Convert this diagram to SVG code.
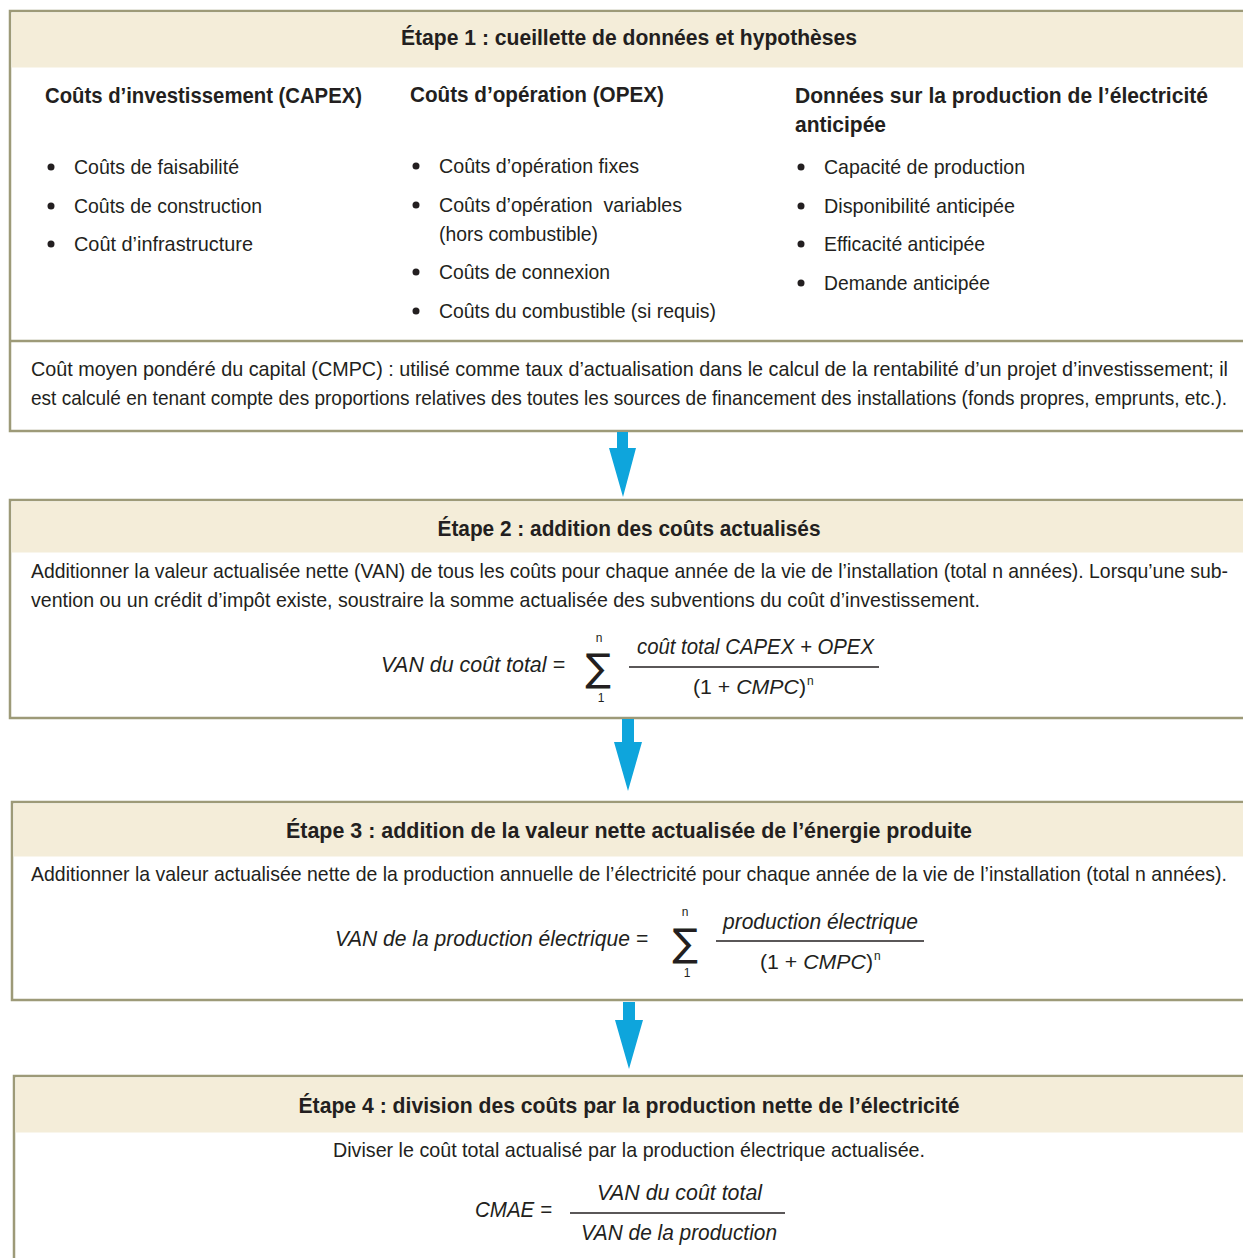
<svg xmlns="http://www.w3.org/2000/svg" width="1243" height="1258" viewBox="0 0 1243 1258">
<style>
text{font-family:"Liberation Sans","Noto Sans",sans-serif;fill:#231f20;}
.t{font-size:22px;font-weight:bold;text-anchor:middle;}
.h{font-size:22px;font-weight:bold;}
.b{font-size:21px;}
.i{font-size:22px;font-style:italic;}
.sm{font-size:12px;}
.sg{font-family:"DejaVu Sans",sans-serif;font-size:38px;}
.box{fill:#fff;stroke:#9d9a78;stroke-width:2.5;}
.hdr{fill:#f4edd9;}
.ln{stroke:#9d9a78;stroke-width:2.5;}
.fr{stroke:#231f20;stroke-width:1.5;}
.arr{fill:#0ea5dc;}
</style>
<g id="step1">
<rect class="box" x="10" y="11" width="1250" height="420"/>
<rect class="hdr" x="11.5" y="12.5" width="1240" height="55"/>
<line class="ln" x1="10" y1="341" x2="1250" y2="341"/>
<text class="t" x="629" y="45" textLength="456" lengthAdjust="spacingAndGlyphs">Étape 1 : cueillette de données et hypothèses</text>
<text class="h" x="45" y="103" textLength="317" lengthAdjust="spacingAndGlyphs">Coûts d’investissement (CAPEX)</text>
<text class="h" x="410" y="102" textLength="254" lengthAdjust="spacingAndGlyphs">Coûts d’opération (OPEX)</text>
<text class="h" x="795" y="103" textLength="413" lengthAdjust="spacingAndGlyphs">Données sur la production de l’électricité</text>
<text class="h" x="795" y="132" textLength="91" lengthAdjust="spacingAndGlyphs">anticipée</text>
<g fill="#231f20">
<circle cx="51" cy="167" r="3.5"/><circle cx="51" cy="206" r="3.5"/><circle cx="51" cy="244" r="3.5"/>
<circle cx="416" cy="166" r="3.5"/><circle cx="416" cy="205" r="3.5"/><circle cx="416" cy="272" r="3.5"/><circle cx="416" cy="311" r="3.5"/>
<circle cx="801" cy="167" r="3.5"/><circle cx="801" cy="206" r="3.5"/><circle cx="801" cy="244" r="3.5"/><circle cx="801" cy="283" r="3.5"/>
</g>
<text class="b" x="74" y="174" textLength="165" lengthAdjust="spacingAndGlyphs">Coûts de faisabilité</text>
<text class="b" x="74" y="213" textLength="188" lengthAdjust="spacingAndGlyphs">Coûts de construction</text>
<text class="b" x="74" y="251" textLength="179" lengthAdjust="spacingAndGlyphs">Coût d’infrastructure</text>
<text class="b" x="439" y="173" textLength="200" lengthAdjust="spacingAndGlyphs">Coûts d’opération fixes</text>
<text class="b" x="439" y="212" textLength="243" lengthAdjust="spacingAndGlyphs" xml:space="preserve">Coûts d’opération  variables</text>
<text class="b" x="439" y="241" textLength="159" lengthAdjust="spacingAndGlyphs">(hors combustible)</text>
<text class="b" x="439" y="279" textLength="171" lengthAdjust="spacingAndGlyphs">Coûts de connexion</text>
<text class="b" x="439" y="318" textLength="277" lengthAdjust="spacingAndGlyphs">Coûts du combustible (si requis)</text>
<text class="b" x="824" y="174" textLength="201" lengthAdjust="spacingAndGlyphs">Capacité de production</text>
<text class="b" x="824" y="213" textLength="191" lengthAdjust="spacingAndGlyphs">Disponibilité anticipée</text>
<text class="b" x="824" y="251" textLength="161" lengthAdjust="spacingAndGlyphs">Efficacité anticipée</text>
<text class="b" x="824" y="290" textLength="166" lengthAdjust="spacingAndGlyphs">Demande anticipée</text>
<text class="b" x="31" y="376" textLength="1197" lengthAdjust="spacingAndGlyphs">Coût moyen pondéré du capital (CMPC) : utilisé comme taux d’actualisation dans le calcul de la rentabilité d’un projet d’investissement; il</text>
<text class="b" x="31" y="405" textLength="1196" lengthAdjust="spacingAndGlyphs">est calculé en tenant compte des proportions relatives des toutes les sources de financement des installations (fonds propres, emprunts, etc.).</text>
</g>
<g id="step2">
<rect class="box" x="10" y="500" width="1250" height="218"/>
<rect class="hdr" x="11.5" y="501.5" width="1240" height="51"/>
<text class="t" x="629" y="536" textLength="383" lengthAdjust="spacingAndGlyphs">Étape 2 : addition des coûts actualisés</text>
<text class="b" x="31" y="578" textLength="1197" lengthAdjust="spacingAndGlyphs">Additionner la valeur actualisée nette (VAN) de tous les coûts pour chaque année de la vie de l’installation (total n années). Lorsqu’une sub-</text>
<text class="b" x="31" y="607" textLength="949" lengthAdjust="spacingAndGlyphs">vention ou un crédit d’impôt existe, soustraire la somme actualisée des subventions du coût d’investissement.</text>
<text class="i" x="381" y="672" textLength="184" lengthAdjust="spacingAndGlyphs">VAN du coût total =</text>
<text class="sg" x="598" y="681" text-anchor="middle">∑</text>
<text class="sm" x="599" y="642" text-anchor="middle">n</text>
<text class="sm" x="601" y="702" text-anchor="middle">1</text>
<line class="fr" x1="629" y1="667" x2="879" y2="667"/>
<text class="i" x="637" y="654" textLength="237" lengthAdjust="spacingAndGlyphs">coût total CAPEX + OPEX</text>
<text class="b" x="693" y="694" textLength="113" lengthAdjust="spacingAndGlyphs">(1 + <tspan font-style="italic">CMPC</tspan>)</text>
<text class="sm" x="807" y="685">n</text>
</g>
<g id="step3">
<rect class="box" x="12" y="802" width="1250" height="198"/>
<rect class="hdr" x="13.5" y="803.5" width="1240" height="53"/>
<text class="t" x="629" y="838" textLength="686" lengthAdjust="spacingAndGlyphs">Étape 3 : addition de la valeur nette actualisée de l’énergie produite</text>
<text class="b" x="31" y="881" textLength="1196" lengthAdjust="spacingAndGlyphs">Additionner la valeur actualisée nette de la production annuelle de l’électricité pour chaque année de la vie de l’installation (total n années).</text>
<text class="i" x="335" y="946" textLength="313" lengthAdjust="spacingAndGlyphs">VAN de la production électrique =</text>
<text class="sg" x="685" y="956" text-anchor="middle">∑</text>
<text class="sm" x="685" y="916" text-anchor="middle">n</text>
<text class="sm" x="687" y="977" text-anchor="middle">1</text>
<line class="fr" x1="716" y1="941" x2="924" y2="941"/>
<text class="i" x="723" y="929" textLength="195" lengthAdjust="spacingAndGlyphs">production électrique</text>
<text class="b" x="760" y="969" textLength="113" lengthAdjust="spacingAndGlyphs">(1 + <tspan font-style="italic">CMPC</tspan>)</text>
<text class="sm" x="874" y="960">n</text>
</g>
<g id="step4">
<rect class="box" x="14" y="1076" width="1250" height="200"/>
<rect class="hdr" x="15.5" y="1077.5" width="1240" height="55"/>
<text class="t" x="629" y="1113" textLength="661" lengthAdjust="spacingAndGlyphs">Étape 4 : division des coûts par la production nette de l’électricité</text>
<text class="b" x="333" y="1157" textLength="592" lengthAdjust="spacingAndGlyphs">Diviser le coût total actualisé par la production électrique actualisée.</text>
<text class="i" x="475" y="1217" textLength="77" lengthAdjust="spacingAndGlyphs">CMAE =</text>
<line class="fr" x1="570" y1="1213" x2="785" y2="1213"/>
<text class="i" x="597" y="1200" textLength="165" lengthAdjust="spacingAndGlyphs">VAN du coût total</text>
<text class="i" x="581" y="1240" textLength="196" lengthAdjust="spacingAndGlyphs">VAN de la production</text>
</g>
<g id="connectors">
<polygon class="arr" points="617,432 628,432 628,448 636,448 623,497 609,448 617,448"/>
<polygon class="arr" points="622,719 634,719 634,742 642,742 628,791 614,742 622,742"/>
<polygon class="arr" points="623,1002 635,1002 635,1020 643,1020 629,1069 615,1020 623,1020"/>
</g>
</svg>
